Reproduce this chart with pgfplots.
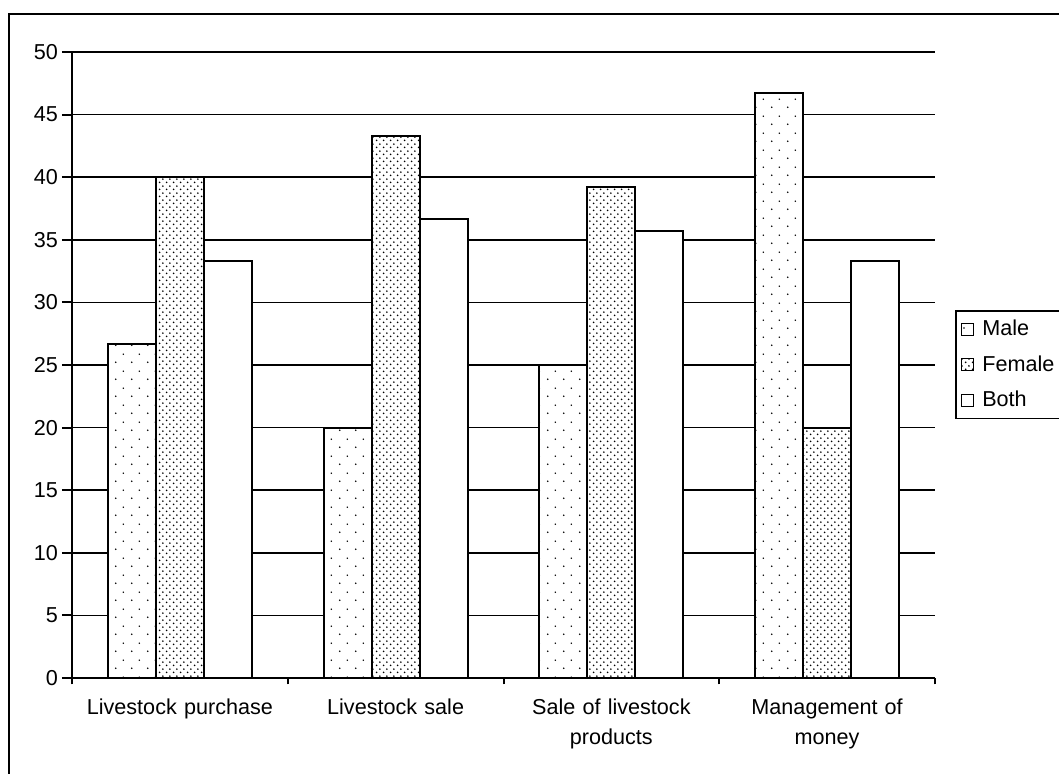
\documentclass[border=0pt]{standalone}
\usepackage{pgfplots}
\pgfplotsset{compat=1.18}
\usepackage{fontspec}
\setmainfont{Liberation Sans}
\usetikzlibrary{patterns}

% sparse staggered dots (Male)
\pgfdeclarepatternformonly{sparsedots}{\pgfqpoint{0pt}{0pt}}{\pgfqpoint{8pt}{8.5pt}}{\pgfqpoint{8pt}{8.5pt}}{%
  \pgfpathcircle{\pgfqpoint{2pt}{2pt}}{0.45pt}%
  \pgfpathcircle{\pgfqpoint{6pt}{6.25pt}}{0.45pt}%
  \pgfusepath{fill}}
% dense staggered dots (Female)
\pgfdeclarepatternformonly{densedots}{\pgfqpoint{0pt}{0pt}}{\pgfqpoint{3.6pt}{3.6pt}}{\pgfqpoint{3.6pt}{3.6pt}}{%
  \pgfpathcircle{\pgfqpoint{0.9pt}{0.9pt}}{0.5pt}%
  \pgfpathcircle{\pgfqpoint{2.7pt}{2.7pt}}{0.5pt}%
  \pgfusepath{fill}}

\newcommand{\lblfont}{\fontsize{10.8}{15}\selectfont}

\begin{document}
\begin{tikzpicture}
\useasboundingbox (0pt,0pt) rectangle (529.5pt,387pt);
\draw[line width=1pt] (4.3pt,-20pt) -- (4.3pt,380pt) -- (560pt,380pt);
\begin{axis}[
  at={(36pt,48pt)}, anchor=south west,
  scale only axis, width=431.5pt, height=313pt,
  ybar=0pt, bar width=24pt,
  xmin=-0.5, xmax=3.5, ymin=0, ymax=50,
  enlargelimits=false, clip=false,
  ytick={0,5,...,50},
  xtick={0,1,2,3},
  xticklabels={Livestock purchase, Livestock sale, {Sale of livestock\\products}, {Management of\\money}},
  minor xtick={-0.5,0.5,1.5,2.5,3.5},
  axis x line*=bottom, axis y line*=left,
  axis line style={line width=1pt, -},
  tick align=outside,
  tick style={black, line width=1pt},
  major tick length=5pt,
  minor tick length=3.2pt,
  major x tick style={draw=none},
  ymajorgrids,
  major y grid style={black, line width=0.8pt},
  /pgf/number format/assume math mode=true,
  yticklabel style={font=\lblfont, xshift=1.5pt},
  xticklabel style={font=\lblfont, align=center, text width=120pt, yshift=-2pt},
  legend style={at={(1.0232,0.588)}, anchor=north west, draw=black, line width=0.8pt,
    font=\lblfont, inner sep=2.5pt, row sep=4.5pt, legend cell align=left},
  legend image code/.code={\draw[#1, draw=black, line width=0.5pt] (0pt,-3pt) rectangle (6pt,3pt); \path (8pt,0pt);},
]
\addplot[draw=black, line width=1pt, fill=white, postaction={pattern=sparsedots}]
  coordinates {(0,26.7) (1,20) (2,25) (3,46.7)};
\addplot[draw=black, line width=1pt, fill=white, postaction={pattern=densedots}]
  coordinates {(0,40) (1,43.3) (2,39.2) (3,20)};
\addplot[draw=black, line width=1pt, fill=white]
  coordinates {(0,33.3) (1,36.7) (2,35.7) (3,33.3)};
\legend{Male, Female, Both}
\end{axis}
\end{tikzpicture}
\end{document}
